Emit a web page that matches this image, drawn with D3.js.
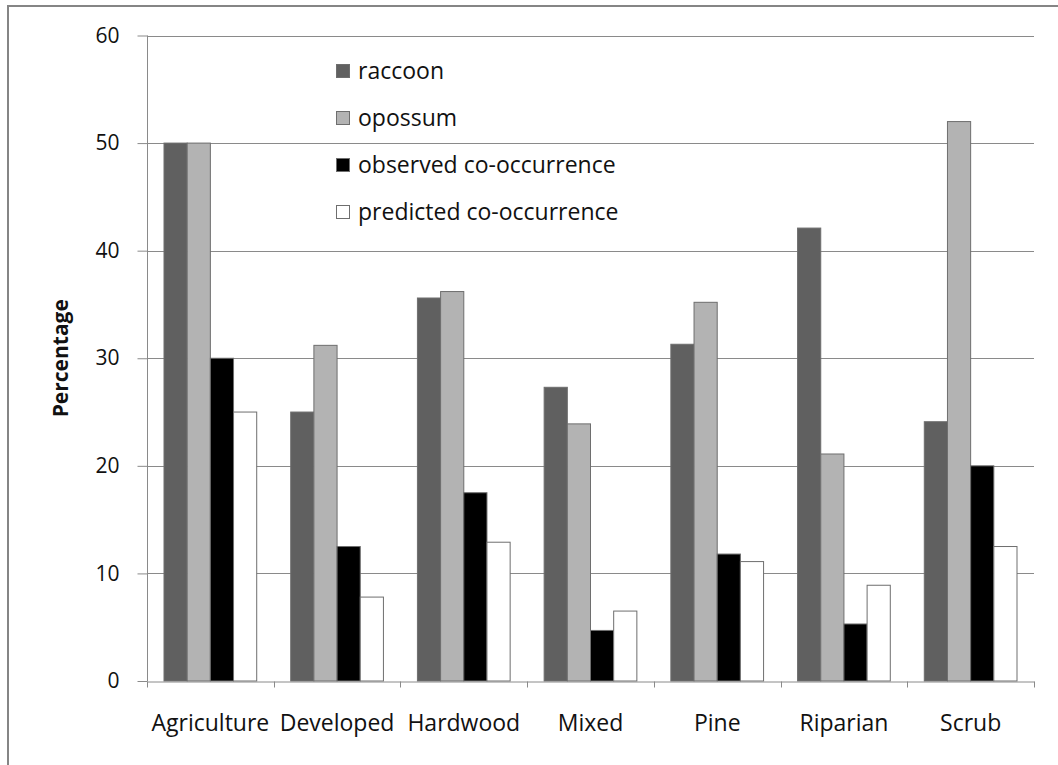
<!DOCTYPE html>
<html>
<head>
<meta charset="utf-8">
<script src="https://cdn.jsdelivr.net/npm/d3@7"></script>
<style>
  html, body { margin: 0; padding: 0; background: #fff; }
  svg { display: block; }
  text { font-family: "Open Sans", "Noto Sans", sans-serif; fill: #111; }
</style>
</head>
<body>
<svg id="chart" width="1058" height="765"></svg>
<script>
// Habitat categories along the x axis
const categories = ["Agriculture", "Developed", "Hardwood", "Mixed", "Pine", "Riparian", "Scrub"];

// Series names (legend order) and their values, in percent
const seriesNames = ["raccoon", "opossum", "observed co-occurrence", "predicted co-occurrence"];
const raccoon   = [50.0, 25.0, 35.6, 27.3, 31.3, 42.1, 24.1];
const opossum   = [50.0, 31.2, 36.2, 23.9, 35.2, 21.1, 52.0];
const observed  = [30.0, 12.5, 17.5, 4.7, 11.8, 5.3, 20.0];
const predicted = [25.0, 7.8, 12.9, 6.5, 11.1, 8.9, 12.5];
const seriesValues = [raccoon, opossum, observed, predicted];

// Y axis tick values
const yTicks = [0, 10, 20, 30, 40, 50, 60];

const fills = ["#606060", "#b3b3b3", "#000000", "#ffffff"];

const svg = d3.select("#chart");

// outer frame
svg.append("rect")
  .attr("x", 8).attr("y", 6)
  .attr("width", 1070).attr("height", 780)
  .attr("fill", "none").attr("stroke", "#858585").attr("stroke-width", 2);

const plot = { left: 147, right: 1034, top: 35.5, bottom: 681 };

// one band per habitat, four bars inside each band
const groupX = d3.scaleBand().domain(categories)
  .range([plot.left, plot.right]).padding(0);
const innerX = d3.scaleBand().domain(seriesNames)
  .range([17, groupX.bandwidth() - 17]);

const y = d3.scaleLinear().domain([0, 60]).range([plot.bottom, plot.top]);

// horizontal gridlines
svg.append("g")
  .selectAll("line")
  .data(yTicks.filter(d => d > 0))
  .join("line")
  .attr("x1", plot.left).attr("x2", plot.right)
  .attr("y1", d => Math.round(y(d)) + 0.5).attr("y2", d => Math.round(y(d)) + 0.5)
  .attr("stroke", "#8a8a8a").attr("stroke-width", 1);

// bars
const groups = svg.append("g")
  .selectAll("g")
  .data(categories)
  .join("g")
  .attr("transform", d => `translate(${groupX(d)},0)`);

groups.selectAll("rect")
  .data((c, i) => seriesNames.map((s, k) => ({ s, k, v: seriesValues[k][i] })))
  .join("rect")
  .attr("x", d => innerX(d.s))
  .attr("y", d => y(d.v))
  .attr("width", innerX.bandwidth())
  .attr("height", d => y(0) - y(d.v))
  .attr("fill", d => fills[d.k])
  .attr("stroke", "#6e6e6e").attr("stroke-width", 1);

// y axis
const yAxis = svg.append("g")
  .attr("transform", `translate(${plot.left + 0.5},0)`)
  .call(d3.axisLeft(y).tickValues(yTicks).tickSize(10).tickPadding(18));
yAxis.select(".domain").attr("stroke", "#8a8a8a").attr("d", `M0,${plot.top}V${plot.bottom}`);
yAxis.selectAll(".tick line").attr("stroke", "#8a8a8a");
yAxis.selectAll(".tick text")
  .style("font-family", "'Open Sans', sans-serif")
  .style("font-size", "21px").attr("fill", "#111");

// x axis
const xAxis = svg.append("g")
  .attr("transform", `translate(0,${plot.bottom + 0.5})`)
  .call(d3.axisBottom(groupX).tickSize(0));
xAxis.select(".domain").attr("stroke", "#8a8a8a");
xAxis.selectAll(".tick text")
  .attr("y", 49).attr("dy", 0)
  .style("font-family", "'Open Sans', sans-serif")
  .style("font-size", "23px").attr("fill", "#111");
// category separator ticks at band edges
xAxis.append("g")
  .selectAll("line")
  .data(categories.concat(["__end"]))
  .join("line")
  .attr("x1", (d, i) => Math.round(plot.left + i * groupX.step()) + 0.5)
  .attr("x2", (d, i) => Math.round(plot.left + i * groupX.step()) + 0.5)
  .attr("y1", 0).attr("y2", 6)
  .attr("stroke", "#8a8a8a");

// y axis title
svg.append("text")
  .attr("transform", `translate(68,${(plot.top + plot.bottom) / 2}) rotate(-90)`)
  .attr("text-anchor", "middle")
  .style("font-size", "21px").style("font-weight", "bold")
  .text("Percentage");

// legend
const legend = svg.append("g")
  .selectAll("g")
  .data(seriesNames)
  .join("g")
  .attr("transform", (d, i) => `translate(336,${71 + i * 47})`);
legend.append("rect")
  .attr("x", 0.5).attr("y", -6.5).attr("width", 13).attr("height", 13)
  .attr("fill", (d, i) => fills[i]).attr("stroke", "#6e6e6e");
legend.append("text")
  .attr("x", 22).attr("dy", "0.35em")
  .style("font-size", "23px")
  .text(d => d);
</script>
</body>
</html>
